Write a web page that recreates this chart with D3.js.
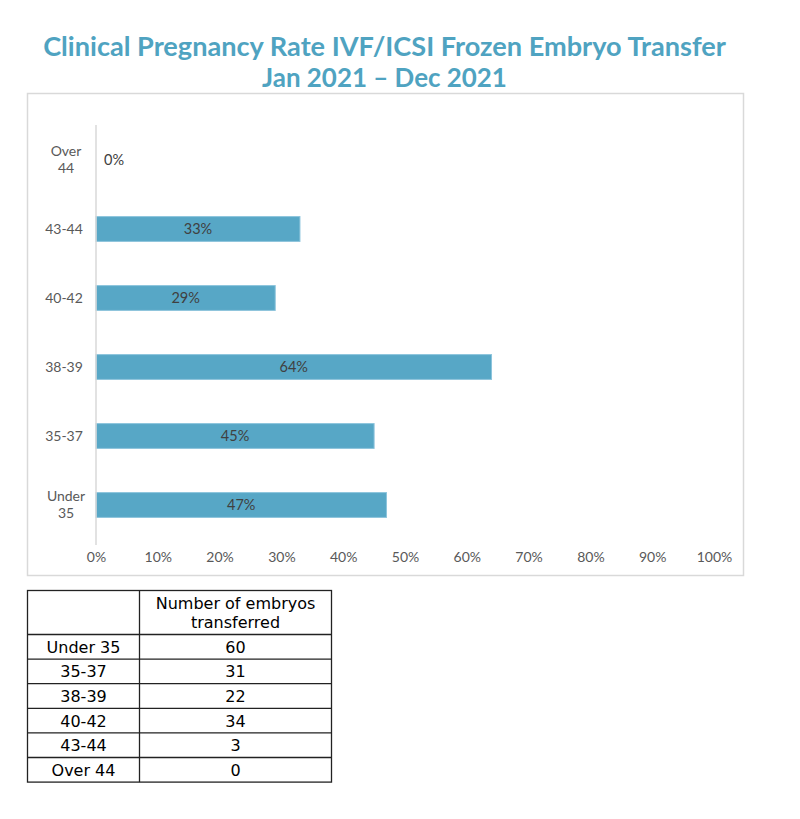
<!DOCTYPE html>
<html>
<head>
<meta charset="utf-8">
<script src="https://cdn.jsdelivr.net/npm/d3@7"></script>
<style>
  body { margin: 0; background: #fff; }
</style>
</head>
<body>
<script>
// ---- data ----
var categories = ["Over 44", "43-44", "40-42", "38-39", "35-37", "Under 35"];
var rates = [0, 33, 29, 64, 45, 47];
var tickValues = [0, 10, 20, 30, 40, 50, 60, 70, 80, 90, 100];
var tableRows = ["Under 35", "35-37", "38-39", "40-42", "43-44", "Over 44"];
var embryos = [60, 31, 22, 34, 3, 0];
var tableHeader = ["Number of embryos", "transferred"];
var titleLines = ["Clinical Pregnancy Rate IVF/ICSI Frozen Embryo Transfer", "Jan 2021 \u2013 Dec 2021"];

var titleCol = "#4fa3c1",
    barCol = "#57a7c6",
    labelCol = "#595959",
    font = "Lato, 'Open Sans', sans-serif",
    tableFont = "'DejaVu Sans', sans-serif";

var svg = d3.select("body")
    .append("svg")
    .attr("width", 800)
    .attr("height", 819);

// ==== Title ====
var titlePos = [{x: 384.5, y: 56, w: 683}, {x: 384.5, y: 86.5, w: 245}];
titleLines.forEach(function(t, i) {
    var el = svg.append("text")
        .text(t)
        .attr("x", titlePos[i].x)
        .attr("y", titlePos[i].y)
        .attr("text-anchor", "middle")
        .attr("font-family", font)
        .attr("font-weight", 700)
        .attr("font-size", "26px")
        .attr("fill", titleCol);
    var len = el.node().getComputedTextLength();
    el.attr("font-size", (26 * titlePos[i].w / len) + "px");
});

// ==== Chart frame ====
svg.append("rect")
    .attr("x", 27.5)
    .attr("y", 93.5)
    .attr("width", 716)
    .attr("height", 482)
    .attr("fill", "white")
    .attr("stroke", "#d9d9d9")
    .attr("stroke-width", 1.5);

var xScale = d3.scaleLinear()
    .domain([0, 100])
    .range([96, 714]);

var yScale = d3.scaleBand()
    .domain(categories)
    .range([125.5, 539.5])
    .paddingInner(0.64)
    .paddingOuter(0.32);

// bars
svg.append("g").selectAll("rect")
    .data(categories)
    .enter().append("rect")
    .attr("x", xScale(0))
    .attr("y", function(d) { return yScale(d); })
    .attr("width", function(d, i) { return xScale(rates[i]) - xScale(0); })
    .attr("height", yScale.bandwidth())
    .attr("fill", barCol)
    .attr("stroke", function(d, i) { return rates[i] > 0 ? "#8cc4dc" : "none"; })
    .attr("stroke-width", 1);

// y axis line
svg.append("line")
    .attr("x1", xScale(0))
    .attr("x2", xScale(0))
    .attr("y1", 125)
    .attr("y2", 545)
    .attr("stroke", "#d9d9d9")
    .attr("stroke-width", 1.5);

// value labels
svg.append("g").selectAll("text")
    .data(categories)
    .enter().append("text")
    .text(function(d, i) { return rates[i] + "%"; })
    .attr("x", function(d, i) {
        return rates[i] > 0 ? (xScale(0) + xScale(rates[i])) / 2 : xScale(0) + 8;
    })
    .attr("y", function(d) { return yScale(d) + yScale.bandwidth() / 2 + 5; })
    .attr("text-anchor", function(d, i) { return rates[i] > 0 ? "middle" : "start"; })
    .attr("font-family", font)
    .attr("font-size", "14.5px")
    .attr("fill", "#404040");

// category labels (wrap two-word ones)
var catG = svg.append("g");
categories.forEach(function(c) {
    var words = c.split(" ");
    var cy = yScale(c) + yScale.bandwidth() / 2;
    var t = catG.append("text")
        .attr("text-anchor", "middle")
        .attr("font-family", font)
        .attr("font-size", "14px")
        .attr("fill", labelCol);
    if (words.length > 1) {
        words.forEach(function(w, j) {
            t.append("tspan")
                .text(w)
                .attr("x", 66)
                .attr("y", cy - 4 + j * 17);
        });
    } else {
        t.text(c).attr("x", 64).attr("y", cy + 5);
    }
});

// x axis
var xAxis = d3.axisBottom(xScale)
    .tickValues(tickValues)
    .tickFormat(function(d) { return d + "%"; })
    .tickSize(0)
    .tickPadding(0);

var gx = svg.append("g")
    .attr("transform", "translate(0,552)")
    .call(xAxis);
gx.select(".domain").remove();
gx.selectAll("text")
    .attr("font-family", font)
    .attr("font-size", "14px")
    .attr("fill", labelCol);

// ==== Table ====
var tX = [27.5, 139.5, 331.5];
var headTop = 590.5, headBot = 634.5, rowH = 24.6;
var rowScale = d3.scaleLinear()
    .domain([0, tableRows.length])
    .range([headBot, headBot + rowH * tableRows.length]);

var tbl = svg.append("g")
    .attr("font-family", tableFont)
    .attr("font-size", "16px")
    .attr("fill", "black");

tbl.append("rect")
    .attr("x", tX[0])
    .attr("y", headTop)
    .attr("width", tX[2] - tX[0])
    .attr("height", rowScale(tableRows.length) - headTop)
    .attr("fill", "none")
    .attr("stroke", "#222")
    .attr("stroke-width", 1.3);

tbl.append("line")
    .attr("x1", tX[1]).attr("x2", tX[1])
    .attr("y1", headTop).attr("y2", rowScale(tableRows.length))
    .attr("stroke", "#222")
    .attr("stroke-width", 1.3);

d3.range(tableRows.length).forEach(function(i) {
    tbl.append("line")
        .attr("x1", tX[0]).attr("x2", tX[2])
        .attr("y1", rowScale(i)).attr("y2", rowScale(i))
        .attr("stroke", "#222")
        .attr("stroke-width", 1.3);
});

tableHeader.forEach(function(h, j) {
    tbl.append("text")
        .text(h)
        .attr("x", (tX[1] + tX[2]) / 2)
        .attr("y", 609 + j * 19)
        .attr("text-anchor", "middle");
});

tableRows.forEach(function(r, i) {
    var cy = (rowScale(i) + rowScale(i + 1)) / 2 + 6;
    tbl.append("text")
        .text(r)
        .attr("x", (tX[0] + tX[1]) / 2)
        .attr("y", cy)
        .attr("text-anchor", "middle");
    tbl.append("text")
        .text(embryos[i])
        .attr("x", (tX[1] + tX[2]) / 2)
        .attr("y", cy)
        .attr("text-anchor", "middle");
});
</script>
</body>
</html>
